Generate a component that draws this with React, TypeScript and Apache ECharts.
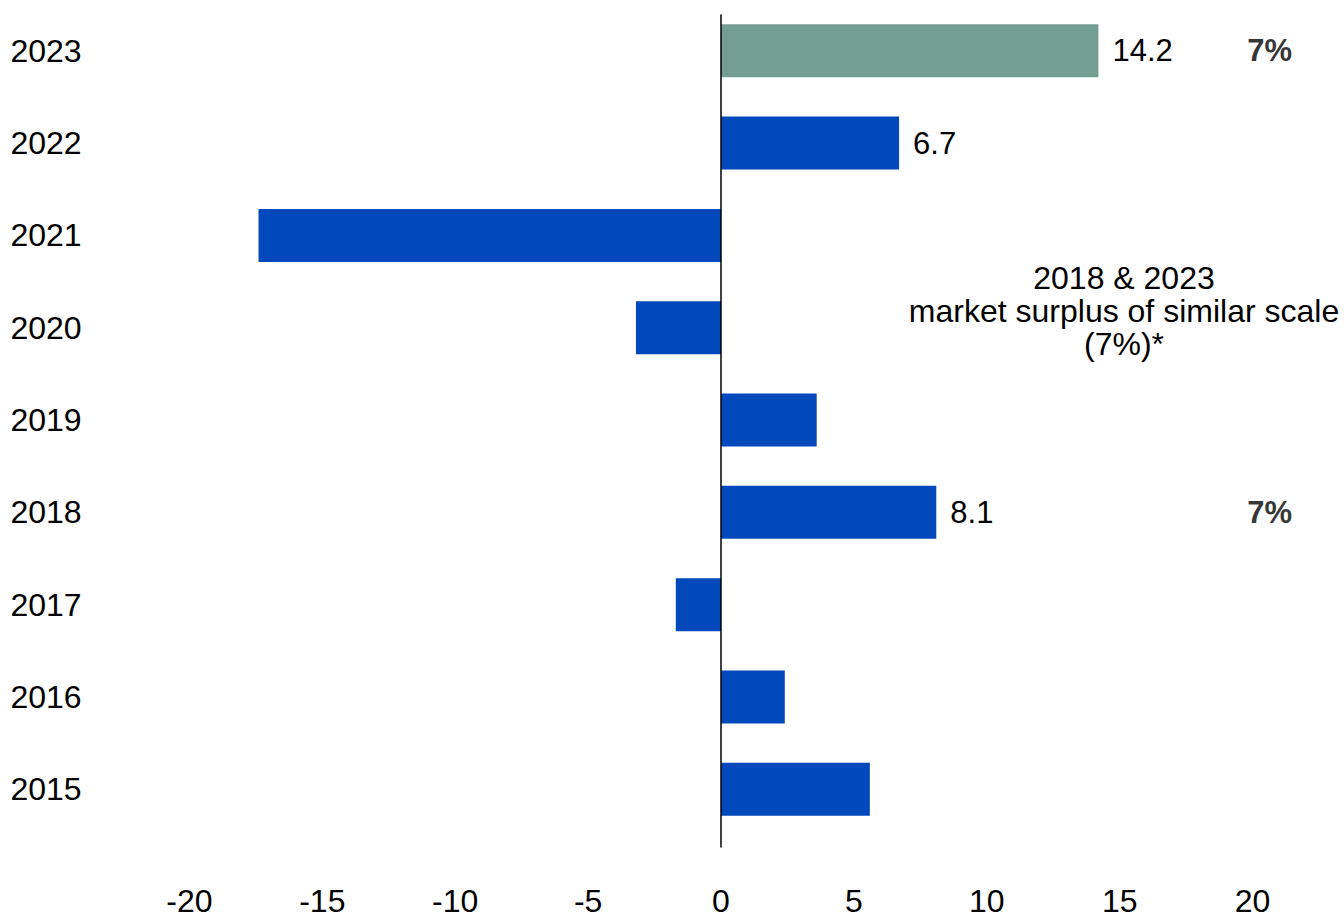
import React, { useEffect, useRef } from "react";
import * as echarts from "echarts";

const years = ["2015", "2016", "2017", "2018", "2019", "2020", "2021", "2022", "2023"];
const values = [5.6, 2.4, -1.7, 8.1, 3.6, -3.2, -17.4, 6.7, 14.2];
const labelledYears = ["2018", "2022", "2023"];
const highlightYear = "2023";
const shareYears = ["2023", "2018"];
const shareLabels = ["7%", "7%"];
const xTicks = { min: -20, max: 20, interval: 5 };
const noteText = "2018 & 2023\nmarket surplus of similar scale\n(7%)*";

const FONT = "'Liberation Sans', Arial, Helvetica, sans-serif";
const BLUE = "#0048bb";
const GREEN = "#759e92";

export default function App() {
  const ref = useRef<HTMLDivElement>(null);
  useEffect(() => {
    document.body.style.margin = "0";
    if (!ref.current) return;
    const chart = echarts.init(ref.current, null, { renderer: "svg" });
    const gridLeft = 189.4;
    const gridWidth = 1063.2;
    chart.setOption({
      animation: false,
      textStyle: { fontFamily: FONT, color: "#000" },
      grid: [
        { left: gridLeft, width: gridWidth, top: 4.6, height: 834.75 },
        { left: gridLeft, width: gridWidth, top: 15, height: 832 },
      ],
      xAxis: [
        {
          gridIndex: 0,
          type: "value",
          min: xTicks.min,
          max: xTicks.max,
          interval: xTicks.interval,
          splitLine: { show: false },
          axisLine: { show: false },
          axisTick: { show: false },
          axisLabel: {
            fontSize: 32,
            lineHeight: 24,
            color: "#000",
            margin: 53.5,
            fontFamily: FONT,
          },
        },
        { gridIndex: 1, type: "value", min: xTicks.min, max: xTicks.max, show: false },
      ],
      yAxis: [
        {
          gridIndex: 0,
          type: "category",
          data: years,
          axisLine: { show: false, onZero: false },
          axisTick: { show: false },
          splitLine: { show: false },
          axisLabel: { fontSize: 32, color: "#000", align: "left", margin: 179, fontFamily: FONT },
        },
        {
          gridIndex: 1,
          type: "category",
          data: [""],
          z: 10,
          axisLine: { show: true, onZero: true, lineStyle: { color: "#000", width: 1.5 } },
          axisTick: { show: false },
          axisLabel: { show: false },
          splitLine: { show: false },
        },
      ],
      series: [
        {
          type: "bar",
          xAxisIndex: 0,
          yAxisIndex: 0,
          barWidth: 53,
          data: years.map((y, i) => ({
            value: values[i],
            itemStyle: { color: y === highlightYear ? GREEN : BLUE },
            label: {
              show: labelledYears.includes(y),
              position: "right",
              distance: 14,
              fontSize: 31,
              color: "#000",
              fontFamily: FONT,
              formatter: (p: any) => Number(p.value).toFixed(1),
            },
          })),
        },
        {
          type: "scatter",
          xAxisIndex: 0,
          yAxisIndex: 0,
          symbolSize: 0,
          clip: false,
          data: shareYears.map((y, i) => ({
            value: [xTicks.max, y],
            label: {
              show: true,
              position: "inside",
              offset: [17, 0],
              formatter: shareLabels[i],
              fontSize: 31,
              fontWeight: "bold",
              color: "#000",
              fontFamily: FONT,
            },
          })),
        },
      ],
      graphic: [
        {
          type: "text",
          x: 1124,
          y: 311,
          style: {
            text: noteText,
            align: "center",
            verticalAlign: "middle",
            font: `32px ${FONT}`,
            lineHeight: 33,
            fill: "#000",
          },
        },
      ],
    });
    return () => chart.dispose();
  }, []);
  return <div ref={ref} style={{ width: 1344, height: 917 }} />;
}
